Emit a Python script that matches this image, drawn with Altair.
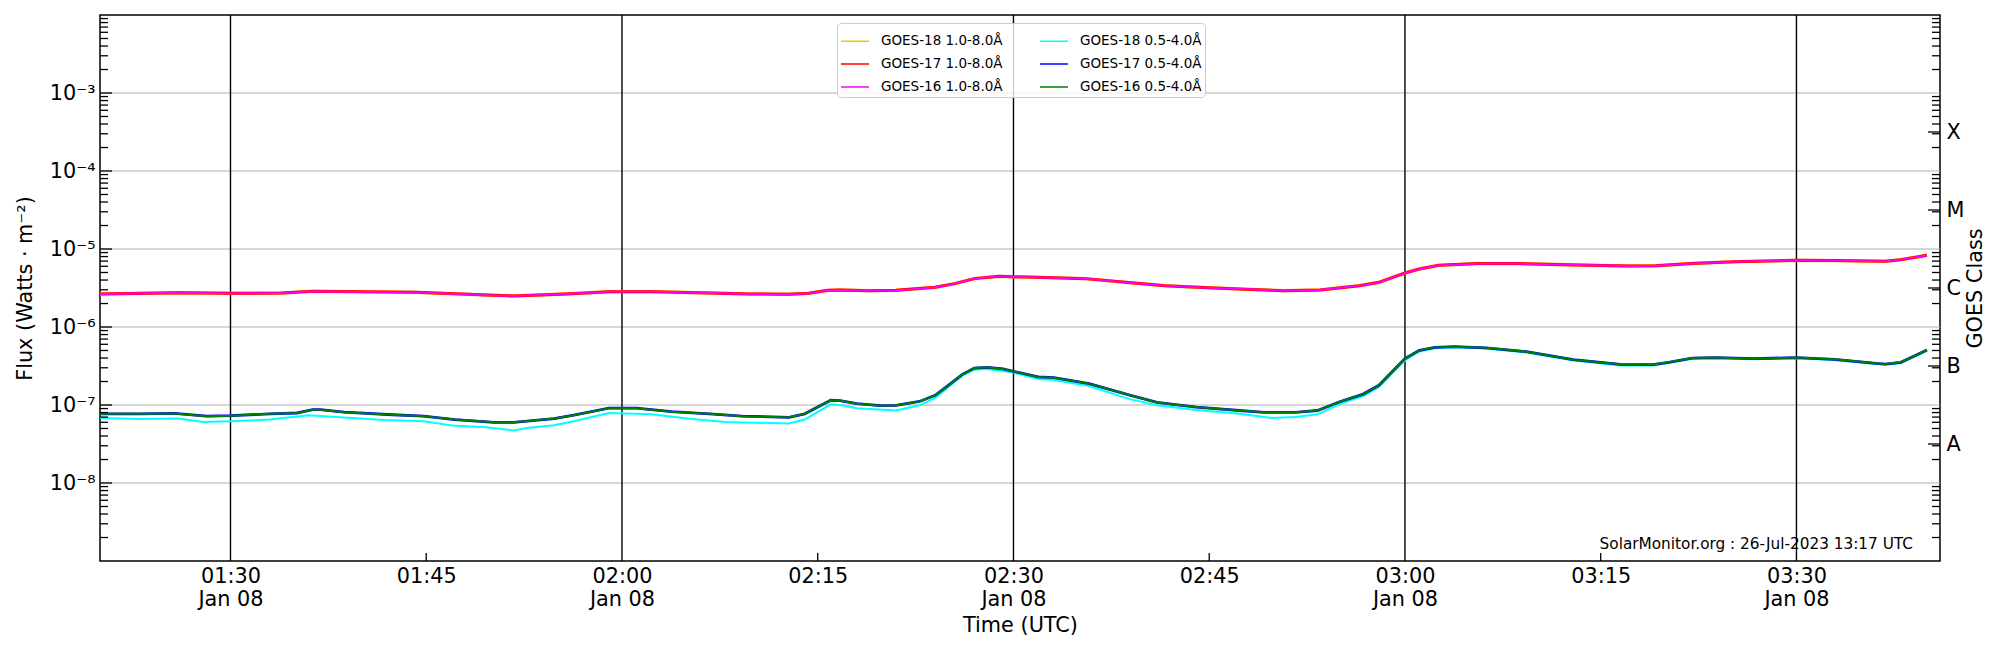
import altair as alt
import pandas as pd

# ---------------- data ----------------
DAY = "2023-01-08"
START = pd.Timestamp(DAY + "T01:20:00Z")

# 1.0-8.0 A channel (GOES-16/17/18 overlap), minutes after 01:20 UTC
long_min = [0.0, 6.0, 10.0, 13.9, 16.3, 24.2, 30.2, 31.7, 35.7, 39.0, 42.3,
            46.7, 49.8, 52.8, 54.3, 55.8, 56.7, 58.9, 61.0, 64.0, 65.5, 67.0, 68.9, 70.0,
            72.5, 75.5, 78.6, 81.6, 84.6, 87.7, 90.7,
            93.5, 96.5, 98.0, 100.0, 101.1, 102.6, 105.6, 108.6, 113.2, 117.1, 119.2,
            122.3, 125.3, 130.0, 132.9, 136.8, 138.0, 140.0]
long_flux = [2.65e-6, 2.75e-6, 2.70e-6, 2.72e-6, 2.87e-6, 2.78e-6, 2.55e-6, 2.50e-6, 2.65e-6, 2.84e-6, 2.84e-6,
             2.73e-6, 2.65e-6, 2.63e-6, 2.70e-6, 2.95e-6, 2.98e-6, 2.92e-6, 2.95e-6, 3.23e-6, 3.60e-6, 4.17e-6, 4.46e-6, 4.40e-6,
             4.30e-6, 4.17e-6, 3.74e-6, 3.39e-6, 3.20e-6, 3.05e-6, 2.92e-6,
             2.98e-6, 3.39e-6, 3.74e-6, 4.92e-6, 5.55e-6, 6.18e-6, 6.50e-6, 6.50e-6, 6.24e-6, 6.05e-6, 6.10e-6,
             6.55e-6, 6.87e-6, 7.16e-6, 7.10e-6, 6.95e-6, 7.30e-6, 8.30e-6]

# 0.5-4.0 A channel, GOES-16 / GOES-17 (overlapping)
short_min = [0.0, 3.0, 5.7, 8.2, 10.0, 13.0, 15.1, 16.3, 16.9, 18.7,
             22.4, 24.8, 27.2, 30.2, 31.7, 34.8, 36.3, 39.0, 41.1, 43.8,
             46.7, 49.2, 52.8, 54.0, 56.0, 56.7, 58.0, 59.8, 61.0, 62.8,
             64.0, 64.9, 66.1, 67.0, 68.0, 69.2, 70.0, 71.9, 73.1, 75.8,
             78.9, 81.0, 84.0, 87.3, 89.2, 91.6, 93.3, 95.0, 96.8, 98.0,
             100.0, 101.1, 102.3, 103.8, 106.2, 109.3, 112.9, 116.5, 119.0, 120.2,
             122.0, 123.8, 126.8, 130.0, 132.9, 135.9, 136.8, 138.0, 140.0]
short_flux = [7.7e-8, 7.7e-8, 7.8e-8, 7.2e-8, 7.3e-8, 7.7e-8, 7.9e-8, 8.7e-8, 8.7e-8, 8.1e-8,
              7.5e-8, 7.2e-8, 6.5e-8, 6.0e-8, 6.0e-8, 6.7e-8, 7.4e-8, 9.1e-8, 9.1e-8, 8.2e-8,
              7.7e-8, 7.2e-8, 6.95e-8, 7.7e-8, 1.15e-7, 1.14e-7, 1.04e-7, 9.8e-8, 9.9e-8, 1.11e-7,
              1.33e-7, 1.73e-7, 2.47e-7, 2.98e-7, 3.04e-7, 2.90e-7, 2.70e-7, 2.29e-7, 2.24e-7, 1.88e-7,
              1.34e-7, 1.08e-7, 9.4e-8, 8.5e-8, 8.05e-8, 8.05e-8, 8.5e-8, 1.10e-7, 1.38e-7, 1.79e-7,
              3.93e-7, 5.02e-7, 5.48e-7, 5.60e-7, 5.40e-7, 4.83e-7, 3.81e-7, 3.32e-7, 3.30e-7, 3.53e-7,
              4.00e-7, 4.05e-7, 3.93e-7, 4.05e-7, 3.85e-7, 3.45e-7, 3.35e-7, 3.53e-7, 5.07e-7]

# 0.5-4.0 A channel, GOES-18 (cyan, slightly lower)
cyan_min = [0.0, 3.0, 6.0, 7.9, 10.0, 13.0, 16.0, 18.7, 21.8, 24.8,
            27.2, 29.6, 31.7, 32.7, 34.8, 36.3, 39.0, 42.3, 45.0, 47.9,
            52.8, 54.0, 56.0, 56.7, 58.0, 61.0, 62.8, 64.0, 66.1, 67.0,
            68.0, 70.0, 71.9, 73.1, 75.8, 78.9, 81.0, 84.0, 87.3, 89.8,
            91.6, 93.3, 95.0, 96.8, 98.0, 100.0, 101.1, 102.3, 103.8, 106.2,
            109.3, 112.9, 116.5, 119.0, 120.2, 122.0, 123.8, 126.8, 130.0, 132.9,
            135.9, 136.8, 138.0, 140.0]
cyan_flux = [6.8e-8, 6.6e-8, 6.7e-8, 6.05e-8, 6.2e-8, 6.5e-8, 7.4e-8, 6.9e-8, 6.4e-8, 6.2e-8,
             5.4e-8, 5.2e-8, 4.7e-8, 5.07e-8, 5.5e-8, 6.2e-8, 7.9e-8, 7.6e-8, 6.7e-8, 6.05e-8,
             5.8e-8, 6.5e-8, 1.02e-7, 1.00e-7, 9.1e-8, 8.5e-8, 9.9e-8, 1.23e-7, 2.38e-7, 2.84e-7,
             2.90e-7, 2.60e-7, 2.15e-7, 2.09e-7, 1.75e-7, 1.19e-7, 9.9e-8, 8.6e-8, 7.7e-8, 6.8e-8,
             7.0e-8, 7.6e-8, 1.03e-7, 1.30e-7, 1.70e-7, 3.74e-7, 4.85e-7, 5.35e-7, 5.50e-7, 5.30e-7,
             4.72e-7, 3.72e-7, 3.22e-7, 3.22e-7, 3.45e-7, 3.92e-7, 3.98e-7, 3.86e-7, 3.98e-7, 3.78e-7,
             3.38e-7, 3.28e-7, 3.46e-7, 4.95e-7]

# legend order: column-major fill -> left column long channel, right column short channel
series_names = ["GOES-18 1.0-8.0Å", "GOES-17 1.0-8.0Å", "GOES-16 1.0-8.0Å",
                "GOES-18 0.5-4.0Å", "GOES-17 0.5-4.0Å", "GOES-16 0.5-4.0Å"]
series_colors = ["#ffbf00", "#ff0000", "#ff00ff", "#00ffff", "#0000ff", "#008000"]

# axes / labels
y_label_values = [1e-8, 1e-7, 1e-6, 1e-5, 1e-4, 1e-3]
y_label_texts = ["10⁻⁸", "10⁻⁷", "10⁻⁶", "10⁻⁵", "10⁻⁴", "10⁻³"]
class_values = [10 ** -7.5, 10 ** -6.5, 10 ** -5.5, 10 ** -4.5, 10 ** -3.5]
class_labels = ["A", "B", "C", "M", "X"]
x_tick_times = ["01:30", "01:45", "02:00", "02:15", "02:30", "02:45", "03:00", "03:15", "03:30"]
x_major_times = ["01:30", "02:00", "02:30", "03:00", "03:30"]
x_minor_times = ["01:45", "02:15", "02:45", "03:15"]
stamp_text = "SolarMonitor.org : 26-Jul-2023 13:17 UTC"

W, H = 1840, 546


def iso(mins):
    return [(START + pd.Timedelta(minutes=m)).strftime("%Y-%m-%dT%H:%M:%SZ") for m in mins]


def hm_ms(hm):
    return int(pd.Timestamp(DAY + "T" + hm + ":00Z").timestamp() * 1000)


def hm_iso(hm):
    return DAY + "T" + hm + ":00Z"


def series_df(mins, flux, name):
    return pd.DataFrame({"t": iso(mins), "flux": flux, "series": name})


xscale = alt.Scale(type="utc", nice=False,
                   domain=[alt.DateTime(year=2023, month=1, date=8, hours=1, minutes=20, utc=True),
                           alt.DateTime(year=2023, month=1, date=8, hours=3, minutes=41, utc=True)])
yscale = alt.Scale(type="log", domain=[1e-9, 1e-2], nice=False)
cscale = alt.Scale(domain=series_names, range=series_colors)

legend = alt.Legend(title=None, orient="none", legendX=737, legendY=8, columns=2,
                    symbolType="stroke", symbolSize=784, symbolStrokeWidth=1.5,
                    labelFontSize=13.5, labelFont="DejaVu Sans", labelOffset=11,
                    rowPadding=1, columnPadding=34, padding=3, labelLimit=0,
                    fillColor="rgba(255,255,255,0.8)", strokeColor="#cccccc",
                    cornerRadius=4)

x_label_expr = ("utcminutes(datum.value) % 30 == 0 ? "
                "[utcFormat(datum.value, '%H:%M'), utcFormat(datum.value, '%b %d')] : "
                "utcFormat(datum.value, '%H:%M')")
y_label_expr = "[" + ",".join("'%s'" % s for s in y_label_texts) + "][round(log(datum.value)/LN10) + 8]"
c_label_expr = "[" + ",".join("'%s'" % s for s in class_labels) + "][round(log(datum.value)/LN10 + 7.5)]"

FS = 20.8

y_axis = alt.Axis(values=y_label_values, labelExpr=y_label_expr, ticks=False, tickSize=0,
                  domain=False, grid=False, labelPadding=5, labelFontSize=FS,
                  labelFont="DejaVu Sans", title="Flux (Watts · m⁻²)", titleFontSize=FS,
                  titleFont="DejaVu Sans", titleFontWeight="normal", titleAngle=270,
                  titleX=-75, titleY=H / 2, titleAlign="center", titleBaseline="middle")

x_axis = alt.Axis(values=[hm_ms(h) for h in x_tick_times], labelExpr=x_label_expr,
                  ticks=False, tickSize=0, domain=False, grid=False, labelPadding=5,
                  labelFontSize=FS, labelFont="DejaVu Sans", labelLineHeight=23,
                  labelFlush=False, labelOverlap=False,
                  title="Time (UTC)", titleFontSize=FS, titleFont="DejaVu Sans",
                  titleFontWeight="normal", titleY=70, titleBaseline="alphabetic")


def Y(field):
    return alt.Y(field, scale=yscale, axis=y_axis, title="Flux (Watts · m⁻²)")


def X(field):
    return alt.X(field, scale=xscale, axis=x_axis, title="Time (UTC)")


# ---------------- layers ----------------
hgrid = alt.Chart(pd.DataFrame({"v": y_label_values})).mark_rule(
    color="#b0b0b0", strokeWidth=1.1).encode(y=Y("v:Q"))

vlines = alt.Chart(pd.DataFrame({"t": [hm_iso(h) for h in x_major_times]})).mark_rule(
    color="black", strokeWidth=1.4).encode(x=X("t:T"))


def line_layer(df, width):
    return alt.Chart(df).mark_line(strokeWidth=width, interpolate="linear").encode(
        x=X("t:T"), y=Y("flux:Q"),
        color=alt.Color("series:N", scale=cscale, legend=legend))


lines = [
    line_layer(series_df(long_min, long_flux, "GOES-18 1.0-8.0Å"), 3.3),
    line_layer(series_df(long_min, long_flux, "GOES-17 1.0-8.0Å"), 3.0),
    line_layer(series_df(long_min, long_flux, "GOES-16 1.0-8.0Å"), 1.8),
    line_layer(series_df(cyan_min, cyan_flux, "GOES-18 0.5-4.0Å"), 2.0),
    line_layer(series_df(short_min, short_flux, "GOES-17 0.5-4.0Å"), 2.8),
    line_layer(series_df(short_min, short_flux, "GOES-16 0.5-4.0Å"), 2.0),
]

# inward ticks
decades = [1e-9, 1e-8, 1e-7, 1e-6, 1e-5, 1e-4, 1e-3]
minor_vals = [m * d for d in decades for m in range(2, 10)]


def ytick(vals, x0, x1):
    return alt.Chart(pd.DataFrame({"v": vals})).mark_rule(color="black", strokeWidth=1.3).encode(
        y=Y("v:Q"), x=alt.value(x0), x2=alt.value(x1))


ticks = [
    ytick(y_label_values, 0, 12),
    ytick(minor_vals, 0, 8),
    ytick(class_values, W, W - 12),
    ytick(minor_vals, W, W - 8),
    alt.Chart(pd.DataFrame({"t": [hm_iso(h) for h in x_minor_times]})).mark_rule(
        color="black", strokeWidth=1.3).encode(
        x=X("t:T"), y=alt.value(H), y2=alt.value(H - 8)),
]

stamp = alt.Chart(pd.DataFrame({"label": [stamp_text]})).mark_text(
    align="right", baseline="alphabetic", fontSize=15.3, font="DejaVu Sans", color="black").encode(
    x=alt.value(1813), y=alt.value(534), text="label:N")

inner = alt.layer(hgrid, vlines, *lines, *ticks, stamp)

right_axis = alt.Chart(pd.DataFrame({"v": class_values})).mark_point(opacity=0).encode(
    y=alt.Y("v:Q", scale=yscale,
            axis=alt.Axis(orient="right", values=class_values, labelExpr=c_label_expr,
                          ticks=False, tickSize=0, domain=False, grid=False, labelPadding=6,
                          labelFontSize=FS, labelFont="DejaVu Sans", labelAlign="left",
                          title="GOES Class", titleFontSize=FS, titleFont="DejaVu Sans",
                          titleFontWeight="normal", titleAngle=270, titleX=35, titleY=H / 2,
                          titleAlign="center", titleBaseline="middle")))

chart = alt.layer(inner, right_axis).resolve_axis(y="independent").properties(
    width=W, height=H,
    autosize=alt.AutoSizeParams(type="none"),
    padding={"left": 92, "top": 7, "right": 52, "bottom": 81},
).configure(font="DejaVu Sans").configure_view(stroke="black", strokeWidth=1.5)

chart.save("out.html", embed_options={"renderer": "svg", "actions": False})
